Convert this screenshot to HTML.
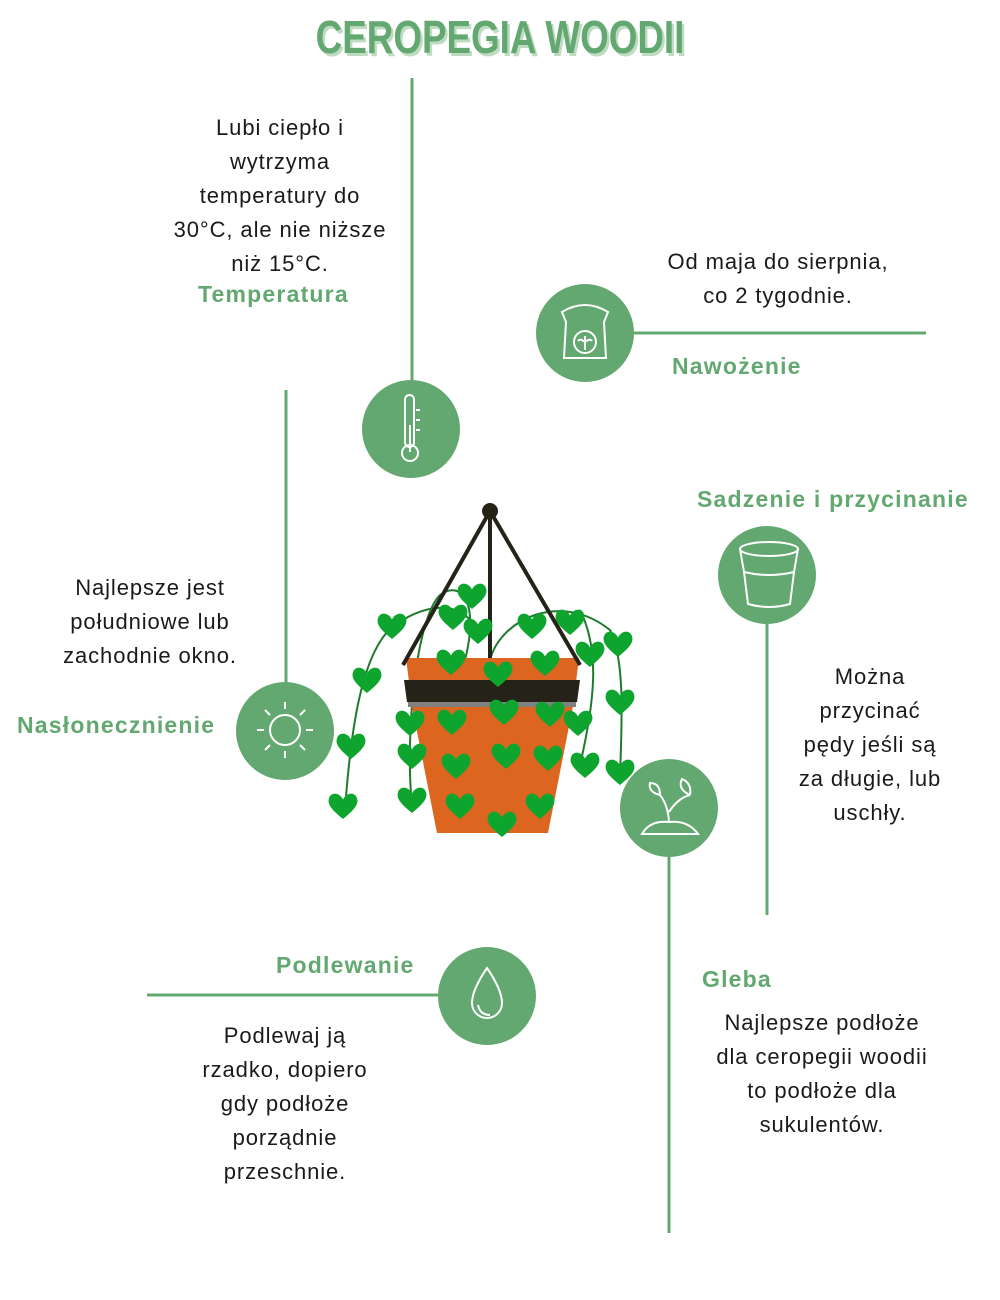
<!DOCTYPE html>
<html><head><meta charset="utf-8"><style>
body{margin:0;background:#fff;}
#c{position:relative;width:1000px;height:1300px;overflow:hidden;font-family:"Liberation Sans",sans-serif;}
.t{position:absolute;font-size:22px;color:#1a1a1a;text-align:center;line-height:34px;letter-spacing:0.9px;white-space:nowrap}
.l{position:absolute;font-size:23px;color:#62a870;font-weight:bold;white-space:nowrap;letter-spacing:1.2px}
h1{position:absolute;left:0;width:1000px;top:10px;margin:0;text-align:center;font-family:"Liberation Sans",sans-serif;font-weight:bold;font-size:46px;color:#62a870;letter-spacing:0px;text-shadow:3px 3px 0 #bfdcc3;transform:scaleX(0.8);transform-origin:500px 0;}
</style></head><body><div id="c">
<h1>CEROPEGIA WOODII</h1>
<svg width="1000" height="1300" style="position:absolute;left:0;top:0">
<defs>
<path id="h" transform="scale(1.3)" d="M0 10 C-6 5 -12 0 -11 -5 C-10 -11 -3 -11 0 -5 C3 -11 10 -11 11 -5 C12 0 6 5 0 10Z" fill="#0ea52e"/>
</defs>
<g stroke="#62a870" stroke-width="3" fill="none">
<line x1="412" y1="78" x2="412" y2="380"/>
<line x1="634" y1="333" x2="926" y2="333"/>
<line x1="286" y1="390" x2="286" y2="683"/>
<line x1="767" y1="624" x2="767" y2="915"/>
<line x1="669" y1="857" x2="669" y2="1233"/>
<line x1="147" y1="995" x2="438" y2="995"/>
</g>
<g fill="#62a870">
<circle cx="411" cy="429" r="49"/><circle cx="585" cy="333" r="49"/>
<circle cx="285" cy="731" r="49"/><circle cx="767" cy="575" r="49"/>
<circle cx="669" cy="808" r="49"/><circle cx="487" cy="996" r="49"/>
</g>
<g stroke="#fff" stroke-width="2" fill="none">
<rect x="405" y="395" width="9" height="52" rx="4.5"/><circle cx="410" cy="453" r="8"/><line x1="410" y1="425" x2="410" y2="452"/>
<line x1="416" y1="410" x2="420" y2="410"/><line x1="416" y1="420" x2="420" y2="420"/><line x1="416" y1="430" x2="420" y2="430"/>
<path d="M562 312 Q585 298 608 312 L604 322 L606 358 L564 358 L566 322Z"/><circle cx="585" cy="342" r="11"/><path d="M585 336 v14 M585 342 q-5 -4 -7 -1 M585 342 q5 -4 7 -1"/>
<circle cx="285" cy="730" r="15"/><g stroke-width="2">
<line x1="285" y1="702" x2="285" y2="709"/><line x1="285" y1="751" x2="285" y2="758"/><line x1="257" y1="730" x2="264" y2="730"/><line x1="306" y1="730" x2="313" y2="730"/>
<line x1="265" y1="710" x2="270" y2="715"/><line x1="300" y1="745" x2="305" y2="750"/><line x1="305" y1="710" x2="300" y2="715"/><line x1="270" y1="745" x2="265" y2="750"/></g>
<ellipse cx="769" cy="549" rx="29" ry="7"/><path d="M740 549 L744 572 L748 604 Q769 610 790 604 L794 572 L798 549 M744 572 Q769 578 794 572"/>
<path d="M642 834 Q650 820 669 822 Q688 820 698 834 Z"/><path d="M669 822 Q668 805 660 795 M669 812 Q678 798 690 795 M660 795 q-12 -3 -10 -12 q10 0 10 12 M690 795 q2 -12 -8 -16 q-5 10 8 16"/>
<path d="M487 968 Q472 990 472 1003 A15 15 0 0 0 502 1003 Q502 990 487 968Z"/><path d="M478 1005 q2 10 12 10"/>
</g>
<g stroke="#1f7a2e" stroke-width="2" fill="none">
<path d="M345 810 C350 740 360 650 395 625 C430 600 470 600 480 640"/>
<path d="M412 805 C405 740 415 620 440 595 C460 580 480 600 465 660"/>
<path d="M455 660 C450 720 458 780 462 810"/>
<path d="M500 670 C505 740 510 800 502 825"/>
<path d="M548 665 C550 730 548 780 540 808"/>
<path d="M490 660 C500 620 560 590 610 630 C625 660 622 720 620 775"/>
<path d="M580 610 C600 650 595 700 580 765"/>
</g>
<path d="M406 658 L579 658 L573 706 L548 833 L437 833 L412 706Z" fill="#dc6620"/>
<path d="M404 680 L580 680 L577 702 L407 702Z" fill="#252318"/>
<rect x="408" y="702" width="168" height="5" fill="#808080"/>
<g stroke="#252318" stroke-width="4" fill="none" stroke-linejoin="round">
<path d="M403 665 L490 511 L580 665"/><line x1="490" y1="511" x2="490" y2="658"/>
</g>
<circle cx="490" cy="511" r="8" fill="#252318"/>
<g>
<use href="#h" x="392" y="626"/><use href="#h" x="367" y="680"/><use href="#h" x="351" y="746"/><use href="#h" x="343" y="806"/>
<use href="#h" x="453" y="617"/><use href="#h" x="472" y="596"/><use href="#h" x="478" y="631"/><use href="#h" x="451" y="662"/>
<use href="#h" x="412" y="756"/><use href="#h" x="412" y="800"/><use href="#h" x="452" y="722"/><use href="#h" x="456" y="766"/>
<use href="#h" x="460" y="806"/><use href="#h" x="498" y="674"/><use href="#h" x="504" y="712"/><use href="#h" x="506" y="756"/>
<use href="#h" x="502" y="824"/><use href="#h" x="532" y="626"/><use href="#h" x="545" y="663"/><use href="#h" x="550" y="714"/>
<use href="#h" x="548" y="758"/><use href="#h" x="540" y="806"/><use href="#h" x="570" y="622"/><use href="#h" x="590" y="654"/>
<use href="#h" x="618" y="644"/><use href="#h" x="620" y="702"/><use href="#h" x="620" y="772"/><use href="#h" x="578" y="723"/>
<use href="#h" x="585" y="765"/><use href="#h" x="410" y="723"/>
</g>
</svg>
<div class="t" style="left:130px;top:111px;width:300px">Lubi ciepło i<br>wytrzyma<br>temperatury do<br>30°C, ale nie niższe<br>niż 15°C.</div>
<div class="l" style="left:198px;top:281px">Temperatura</div>
<div class="t" style="left:628px;top:245px;width:300px">Od maja do sierpnia,<br>co 2 tygodnie.</div>
<div class="l" style="left:672px;top:353px">Nawożenie</div>
<div class="l" style="left:697px;top:486px">Sadzenie i przycinanie</div>
<div class="t" style="left:0px;top:571px;width:300px">Najlepsze jest<br>południowe lub<br>zachodnie okno.</div>
<div class="l" style="left:17px;top:712px">Nasłonecznienie</div>
<div class="t" style="left:770px;top:660px;width:200px">Można<br>przycinać<br>pędy jeśli są<br>za długie, lub<br>uschły.</div>
<div class="l" style="left:276px;top:952px">Podlewanie</div>
<div class="l" style="left:702px;top:966px">Gleba</div>
<div class="t" style="left:135px;top:1019px;width:300px">Podlewaj ją<br>rzadko, dopiero<br>gdy podłoże<br>porządnie<br>przeschnie.</div>
<div class="t" style="left:672px;top:1006px;width:300px">Najlepsze podłoże<br>dla ceropegii woodii<br>to podłoże dla<br>sukulentów.</div>
</div></body></html>
